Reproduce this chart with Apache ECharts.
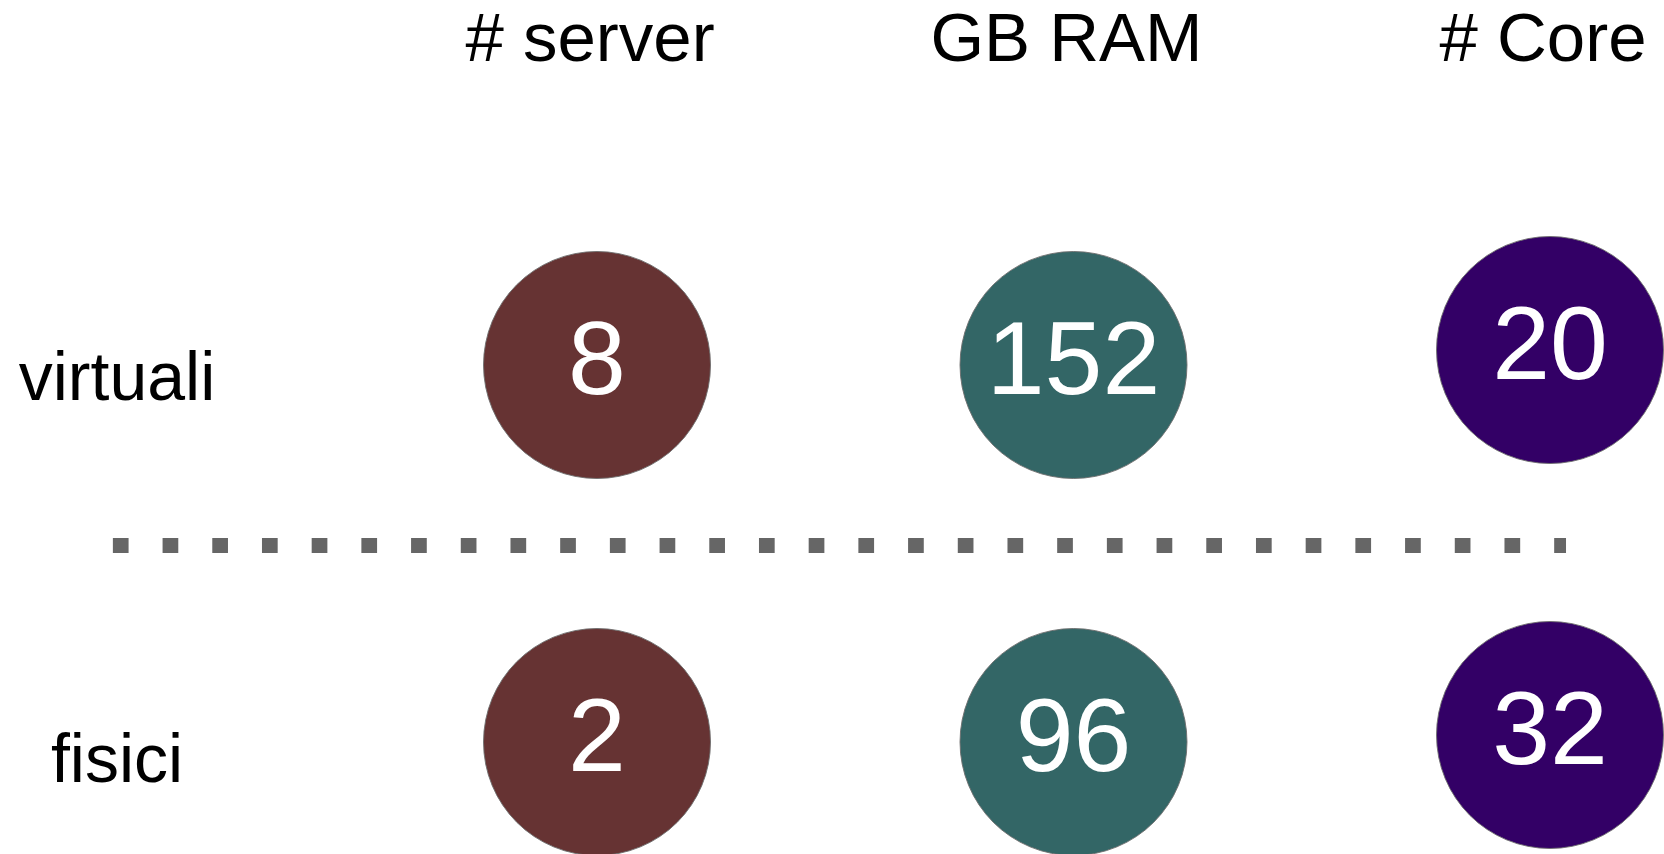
<!DOCTYPE html>
<html>
<head>
<meta charset="utf-8">
<script src="https://cdn.jsdelivr.net/npm/echarts@6/dist/echarts.min.js"></script>
<style>
html,body{margin:0;padding:0;background:#fff;}
#c{width:1664px;height:854px;}
</style>
</head>
<body>
<div id="c"></div>
<script>
// ---- data ----
const columns = ['# server', 'GB RAM', '# Core'];
const rows = ['virtuali', 'fisici'];
const rowPos = [1, 0];               // category positions of the rows
const virtuali = [8, 152, 20];
const fisici = [2, 96, 32];
const colors = ['#663333', '#336666', '#330066'];
const separator = { y: 0.521, from: -1.016, to: 2.0336 };

const FONT = '"Liberation Sans", Arial, sans-serif';
const chart = echarts.init(document.getElementById('c'), null, { renderer: 'canvas' });

// per-column nudges (style)
const nudges = [
  [[0, 0], [0, 0]],
  [[0, 0], [0, 0]],
  [[0, -15], [0, -7]]
];

const series = columns.map((name, i) => ({
  type: 'scatter',
  name: name,
  symbol: 'circle',
  symbolSize: 227,
  itemStyle: { color: colors[i], borderColor: 'rgba(110,110,110,0.9)', borderWidth: 1, opacity: 1 },
  label: {
    show: true,
    position: 'inside',
    color: '#ffffff',
    fontFamily: FONT,
    fontSize: 104,
    formatter: p => String(p.value[2])
  },
  emphasis: { disabled: true },
  data: [
    { value: [i, rowPos[0], virtuali[i]], symbolOffset: nudges[i][0] },
    { value: [i, rowPos[1], fisici[i]], symbolOffset: nudges[i][1] }
  ]
}));

series.push({
  type: 'line',
  data: [],
  markLine: {
    silent: true,
    symbol: ['none', 'none'],
    label: { show: false },
    lineStyle: { color: '#666666', width: 15, type: [15.7, 34], cap: 'butt', opacity: 1 },
    emphasis: { disabled: true },
    data: [[
      { coord: [separator.from, separator.y] },
      { coord: [separator.to, separator.y] }
    ]]
  }
});

chart.setOption({
  animation: false,
  backgroundColor: '#ffffff',
  grid: { left: 0, right: 0, top: 0, bottom: 0, containLabel: false },
  xAxis: {
    type: 'value',
    position: 'top',
    min: -1.25289,
    max: 2.23924,
    axisLine: { show: false },
    axisTick: { show: false },
    splitLine: { show: false },
    axisLabel: {
      inside: true,
      customValues: [0, 1, 2],
      margin: 42,
      verticalAlign: 'middle',
      align: 'center',
      padding: [0, 14, 0, 0],
      color: '#000000',
      fontFamily: FONT,
      fontSize: 69,
      formatter: v => columns[Math.round(v)] || ''
    }
  },
  yAxis: {
    type: 'value',
    min: -0.29708,
    max: 1.96817,
    axisLine: { show: false },
    axisTick: { show: false },
    splitLine: { show: false },
    axisLabel: {
      inside: true,
      customValues: rowPos,
      margin: 117,
      align: 'center',
      verticalAlign: 'middle',
      color: '#000000',
      fontFamily: FONT,
      fontSize: 68,
      formatter: v => v === rowPos[0] ? '{a|' + rows[0] + '}' : '{b|' + rows[1] + '}',
      rich: {
        a: { fontFamily: FONT, fontSize: 68, color: '#000', padding: [32, 0, 0, 0] },
        b: { fontFamily: FONT, fontSize: 68, color: '#000', padding: [42, 0, 0, 0] }
      }
    }
  },
  series: series
});
</script>
</body>
</html>
